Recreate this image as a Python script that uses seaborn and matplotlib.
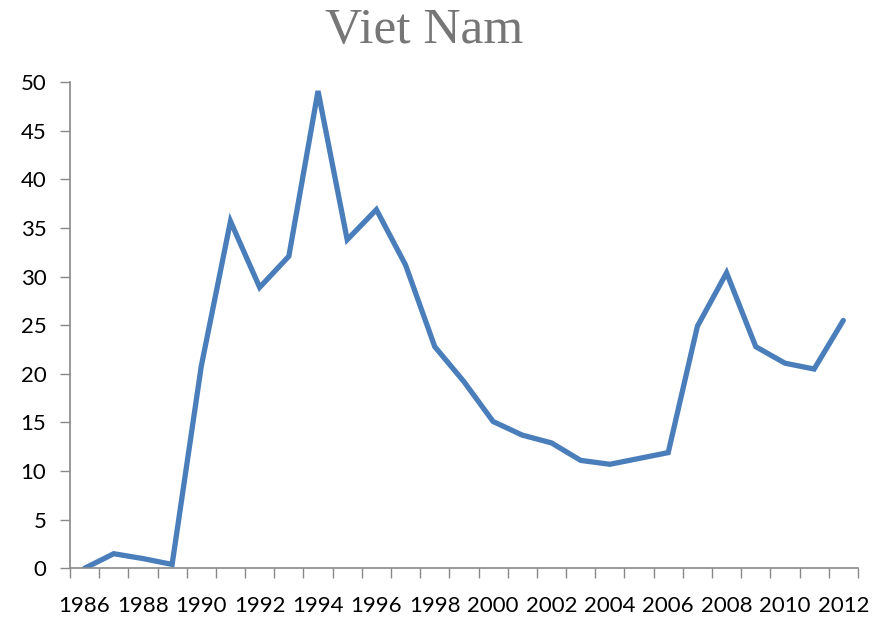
import numpy as np
import pandas as pd
import matplotlib
matplotlib.use("Agg")
import matplotlib.pyplot as plt
import seaborn as sns

# values
years = list(range(1986, 2013))
values = [0.0, 1.5, 1.0, 0.4, 20.8, 35.7, 28.9, 32.1, 49.1, 33.8, 36.9, 31.2,
          22.8, 19.2, 15.1, 13.7, 12.9, 11.1, 10.7, 11.3, 11.9, 24.9, 30.4,
          22.8, 21.1, 20.5, 25.5]
label_years = years[::2]
y_ticks = list(range(0, 55, 5))

df = pd.DataFrame({"year": years, "value": values})

sns.set_style("white")
axis_grey = "#898989"

fig = plt.figure(figsize=(8.79, 6.2), dpi=100)
ax = fig.add_axes([0.0796, 0.0834, 0.976 - 0.0796, 0.8673 - 0.0834])

sns.lineplot(data=df, x="year", y="value", ax=ax, color="#4a7ebb",
             linewidth=3.8, solid_capstyle="round", solid_joinstyle="miter")

ax.set_xlim(1985.5, 2012.5)
ax.set_ylim(0, 50)
ax.set_xlabel("")
ax.set_ylabel("")

# tick marks sit on the category boundaries, labels in the middle
ax.set_xticks(np.arange(1985.5, 2013, 1.0))
ax.set_xticklabels([])
ax.set_xticks(label_years, [str(y) for y in label_years], minor=True)
ax.tick_params(axis="x", which="major", direction="out", length=7,
               width=1, color=axis_grey, bottom=True)
ax.tick_params(axis="x", which="minor", length=0, pad=20, labelsize=16,
               labelcolor="black")

ax.set_yticks(y_ticks, [str(v) for v in y_ticks])
ax.tick_params(axis="y", direction="out", length=7, width=1, color=axis_grey,
               left=True, pad=10, labelsize=16, labelcolor="black")
for lab in ax.get_xticklabels(minor=True) + ax.get_yticklabels():
    lab.set_family("Lato")

for side in ["top", "right"]:
    ax.spines[side].set_visible(False)
for side in ["left", "bottom"]:
    ax.spines[side].set_color(axis_grey)
    ax.spines[side].set_linewidth(1.2)

fig.text(0.483, 0.931, "Viet Nam", ha="center", va="baseline",
         family="Liberation Serif", fontsize=37, color="#767676")

fig.savefig("out.png", dpi=100)
